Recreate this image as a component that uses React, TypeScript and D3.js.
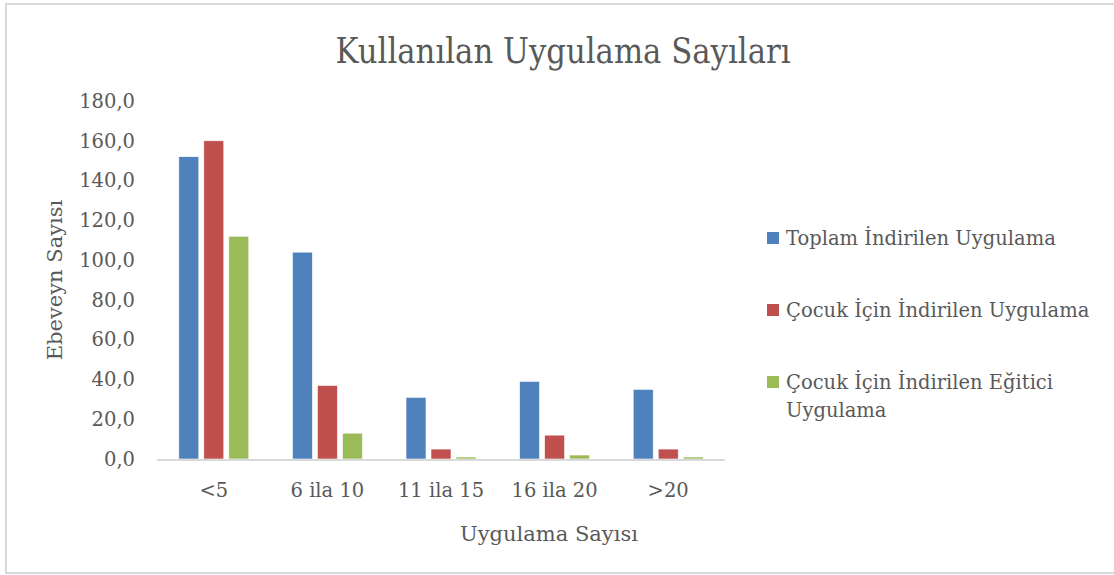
import React from 'react';
import * as d3 from 'd3';

const categories = ['<5', '6 ila 10', '11 ila 15', '16 ila 20', '>20'];
const seriesNames = [
  'Toplam İndirilen Uygulama',
  'Çocuk İçin İndirilen Uygulama',
  'Çocuk İçin İndirilen Eğitici Uygulama',
];
const toplam = [152, 104, 31, 39, 35];
const cocuk = [160, 37, 5, 12, 5];
const egitici = [112, 13, 1, 2, 1];
const yTicks = [0, 20, 40, 60, 80, 100, 120, 140, 160, 180];
const colors = ['#4f81bd', '#c0504d', '#9bbb59'];

const W = 1114;
const H = 575;
const FONT = '"DejaVu Serif", serif';
const TEXT = '#595959';

const App = () => {
  const series = [toplam, cocuk, egitici];

  const x = d3.scaleBand<string>()
    .domain(categories)
    .range([157, 725]);

  const inner = d3.scaleBand<number>()
    .domain([0, 1, 2])
    .range([-37.5, 37.5])
    .paddingInner(0.2)
    .paddingOuter(0.1);

  const y = d3.scaleLinear()
    .domain([0, 180])
    .range([459, 101]);

  const fmt = (v: number) => d3.format('.1f')(v).replace('.', ',');

  // legend rows (last one wraps onto two lines)
  const legendRows = [
    { lines: [seriesNames[0]], y: 238 },
    { lines: [seriesNames[1]], y: 310 },
    { lines: ['Çocuk İçin İndirilen Eğitici', 'Uygulama'], y: 382 },
  ];

  return (
    <svg
      width={W}
      height={H}
      style={{ position: 'absolute', left: 0, top: 0, display: 'block', background: '#fff' }}
      fontFamily={FONT}
    >
      {/* chart frame */}
      <rect x={6} y={4} width={W + 10} height={H - 6} fill="#fff" stroke="#d9d9d9" strokeWidth={2} />

      {/* title */}
      <text
        x={563}
        y={63}
        textAnchor="middle"
        fontSize={36}
        fill={TEXT}
        textLength={455}
        lengthAdjust="spacingAndGlyphs"
      >
        Kullanılan Uygulama Sayıları
      </text>

      {/* y tick labels */}
      {yTicks.map(t => (
        <text
          key={t}
          x={135}
          y={y(t)}
          dy="0.35em"
          textAnchor="end"
          fontSize={19.5}
          fill={TEXT}
        >
          {fmt(t)}
        </text>
      ))}

      {/* bars */}
      {categories.map((c, i) => (
        <g key={c} transform={`translate(${x(c)! + x.bandwidth() / 2},0)`}>
          {series.map((s, j) => (
            <rect
              key={j}
              x={inner(j)}
              y={y(s[i])}
              width={inner.bandwidth()}
              height={y(0) - y(s[i])}
              fill={colors[j]}
              stroke="#fff"
              strokeWidth={0.6}
            />
          ))}
        </g>
      ))}

      {/* baseline */}
      <line x1={157} x2={725} y1={y(0) + 1} y2={y(0) + 1} stroke="#d9d9d9" strokeWidth={2} />

      {/* x tick labels */}
      {categories.map(c => (
        <text
          key={c}
          x={x(c)! + x.bandwidth() / 2}
          y={497}
          textAnchor="middle"
          fontSize={19.5}
          fill={TEXT}
        >
          {c}
        </text>
      ))}

      {/* axis titles */}
      <text x={549} y={541} textAnchor="middle" fontSize={21} fill={TEXT}>
        Uygulama Sayısı
      </text>
      <text
        transform={`translate(62,280) rotate(-90)`}
        textAnchor="middle"
        fontSize={21}
        fill={TEXT}
      >
        Ebeveyn Sayısı
      </text>

      {/* legend */}
      {legendRows.map((r, i) => (
        <g key={i}>
          <rect x={767} y={r.y - 6} width={12} height={12} fill={colors[i]} />
          {r.lines.map((ln, k) => (
            <text key={k} x={786} y={r.y + k * 28} dy="0.35em" fontSize={19.5} fill={TEXT}>
              {ln}
            </text>
          ))}
        </g>
      ))}
    </svg>
  );
};

export default App;
